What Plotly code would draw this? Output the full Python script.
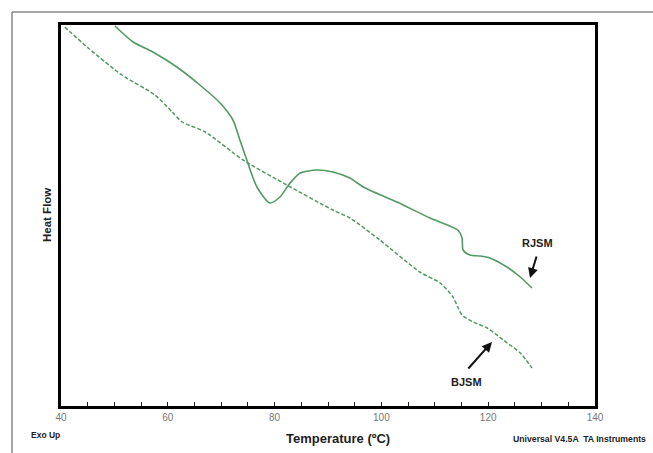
import plotly.graph_objects as go

# RJSM (solid) - temperature (°C) and heat flow (arbitrary units)
rjsm_t = [50.1, 53.5, 57.2, 61.7, 66.0, 69.8, 72.2, 73.5, 74.8, 76.7, 79.1, 81.0, 82.9, 84.8,
          87.9, 90.9, 94.1, 96.6, 102.9, 109.1, 114.3, 115.1, 115.3, 116.6, 118.5, 120.3,
          123.5, 126.0, 128.2]
rjsm_hf = [3.80, 3.64, 3.54, 3.39, 3.21, 3.03, 2.86, 2.66, 2.46, 2.19, 2.03, 2.09, 2.23, 2.33,
           2.36, 2.34, 2.28, 2.19, 2.04, 1.88, 1.76, 1.68, 1.56, 1.51, 1.50, 1.48,
           1.39, 1.29, 1.18]

# BJSM (dashed)
bjsm_t = [40.7, 45.1, 51.4, 57.6, 60.8, 62.7, 67.0, 74.1, 82.3, 90.9, 94.1, 99.7, 107.2,
          111.0, 113.4, 114.3, 115.1, 117.2, 119.8, 122.8, 126.0, 128.2]
bjsm_hf = [3.79, 3.58, 3.31, 3.11, 2.94, 2.84, 2.74, 2.46, 2.21, 1.96, 1.88, 1.66, 1.34,
           1.23, 1.09, 0.99, 0.91, 0.84, 0.78, 0.66, 0.53, 0.38]

x_ticks = list(range(40, 141, 5))
x_labels = [str(v) if v % 20 == 0 else "" for v in x_ticks]

GREEN = "#529a64"
FONT = "Liberation Sans, Arial, sans-serif"

fig = go.Figure()
fig.add_trace(go.Scatter(x=rjsm_t, y=rjsm_hf, mode="lines", name="RJSM",
                         line=dict(color=GREEN, width=1.6, shape="spline", smoothing=0.7)))
fig.add_trace(go.Scatter(x=bjsm_t, y=bjsm_hf, mode="lines", name="BJSM",
                         line=dict(color=GREEN, width=1.5, dash="4px,2px", shape="spline", smoothing=0.7)))

W, H = 653, 453
L, R, T, B = 61, 58, 25, 47
pw, ph = W - L - R, H - T - B


def px(x):
    return (x - L) / pw


def py(y):
    return (H - B - y) / ph


def label(text, x, y, size, angle=0):
    return dict(text=text, xref="paper", yref="paper", x=px(x), y=py(y),
                xanchor="center", yanchor="middle", textangle=angle,
                showarrow=False, font=dict(size=size, color="#222"))


fig.update_layout(
    width=W, height=H,
    margin=dict(l=L, r=R, t=T, b=B),
    paper_bgcolor="white", plot_bgcolor="white",
    showlegend=False,
    font=dict(family=FONT),
    xaxis=dict(range=[40, 140], tickvals=x_ticks, ticktext=x_labels, ticks="inside",
               ticklen=4, tickwidth=1.2, tickcolor="#222", showgrid=False, zeroline=False,
               showline=True, linecolor="black", linewidth=2.5, mirror=True,
               tickfont=dict(size=10, color="#777", family=FONT)),
    yaxis=dict(range=[0, 3.81], showticklabels=False, ticks="", showgrid=False, zeroline=False,
               showline=True, linecolor="black", linewidth=2.5, mirror=True),
    shapes=[
        dict(type="line", xref="paper", yref="paper", x0=px(12), x1=px(653), y0=py(12), y1=py(12),
             line=dict(color="#888", width=1.5)),
        dict(type="line", xref="paper", yref="paper", x0=px(12), x1=px(12), y0=py(12), y1=py(453),
             line=dict(color="#888", width=1.5)),
    ],
    annotations=[
        label("<b>Heat Flow</b>", 47, 215, 11.5, -90),
        label("<b>Temperature (ºC)</b>", 338, 438, 13),
        label("<b>Exo Up</b>", 45, 435, 8.5),
        label("<b>Universal V4.5A  TA Instruments</b>", 579, 439, 8.7),
        label("<b>RJSM</b>", 537, 243, 11),
        label("<b>BJSM</b>", 466, 382, 11),
        dict(text="", xref="paper", yref="paper", x=px(530), y=py(278), ax=7, ay=-23,
             showarrow=True, arrowhead=2, arrowsize=1, arrowwidth=2, arrowcolor="#111"),
        dict(text="", xref="paper", yref="paper", x=px(492), y=py(342), ax=-25, ay=28,
             showarrow=True, arrowhead=2, arrowsize=1, arrowwidth=2, arrowcolor="#111"),
    ],
)

fig.write_html("out.html")
